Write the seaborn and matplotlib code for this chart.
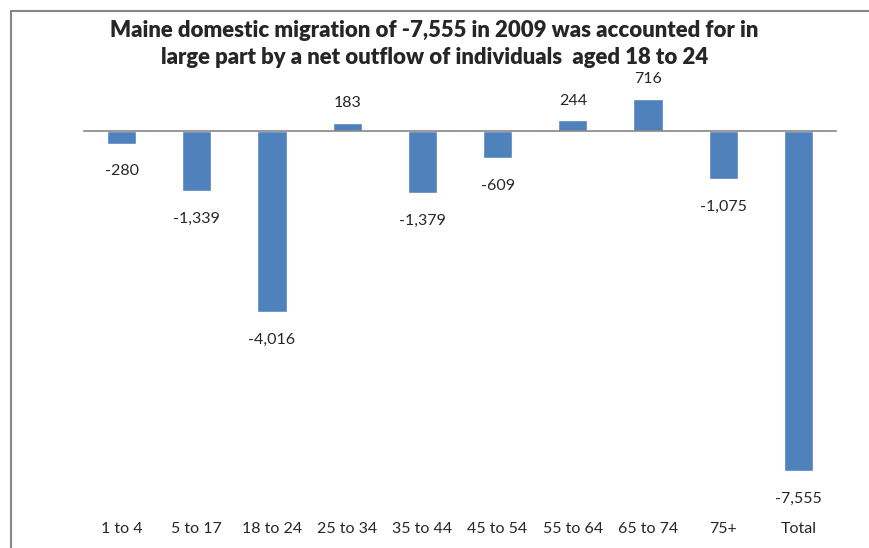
import numpy as np
import pandas as pd
import matplotlib
matplotlib.use("Agg")
import matplotlib.pyplot as plt
import seaborn as sns
from matplotlib.lines import Line2D

# data
age_groups = ['1 to 4', '5 to 17', '18 to 24', '25 to 34', '35 to 44',
              '45 to 54', '55 to 64', '65 to 74', '75+', 'Total']
net_migration = [-280, -1339, -4016, 183, -1379, -609, 244, 716, -1075, -7555]

df = pd.DataFrame({'group': age_groups, 'net': net_migration})

sns.set_style("white")
plt.rcParams['font.family'] = ['Lato', 'DejaVu Sans']

W, H = 869, 548
fig = plt.figure(figsize=(W / 100, H / 100), dpi=100)
# axes placed in pixel terms: left 84, right 836, top 80, bottom 512
ax = fig.add_axes([84 / W, (H - 512) / H, 752 / W, 432 / H])

sns.barplot(data=df, x='group', y='net', color='#4F81BD', saturation=1,
            width=0.39, ax=ax)

ax.set_xlim(-0.5, len(age_groups) - 0.5)
ax.set_ylim(-8466, 1133)

# zero line with tick marks between categories
for s in ['left', 'right', 'top']:
    ax.spines[s].set_visible(False)
ax.spines['bottom'].set_position(('data', 0))
ax.spines['bottom'].set_color('#868686')
ax.spines['bottom'].set_linewidth(1.2)
ax.set_yticks([])
ax.set_xticks(np.arange(-0.5, len(age_groups), 1), minor=True)
ax.tick_params(axis='x', which='minor', direction='out', length=5,
               color='#868686', width=1.2)
ax.tick_params(axis='x', which='major', length=0, labelbottom=False)
ax.set_xlabel('')
ax.set_ylabel('')

# category labels at the bottom of the plot area
for i, g in enumerate(age_groups):
    ax.text(i, -0.04, g, transform=ax.get_xaxis_transform(),
            ha='center', va='center', fontsize=11.5)

# value labels
for i, v in enumerate(net_migration):
    if v < 0:
        ax.annotate(f"{v:,}", (i, v), xytext=(0, -15), textcoords='offset points',
                    ha='center', va='top', fontsize=11.5)
    else:
        ax.annotate(f"{v:,}", (i, v), xytext=(0, 9), textcoords='offset points',
                    ha='center', va='bottom', fontsize=11.5)

fig.text(0.5, 1 - 44 / H,
         "Maine domestic migration of -7,555 in 2009 was accounted for in\n"
         "large part by a net outflow of individuals  aged 18 to 24",
         ha='center', va='center', fontsize=15.9, fontweight='heavy',
         linespacing=1.32)

# chart frame (left and top edges visible)
fig.add_artist(Line2D([11 / W, 11 / W], [0, 1 - 11 / H], color='#868686', lw=1.5))
fig.add_artist(Line2D([11 / W, 1], [1 - 11 / H, 1 - 11 / H], color='#868686', lw=1.5))

fig.savefig('out.png', dpi=100)
